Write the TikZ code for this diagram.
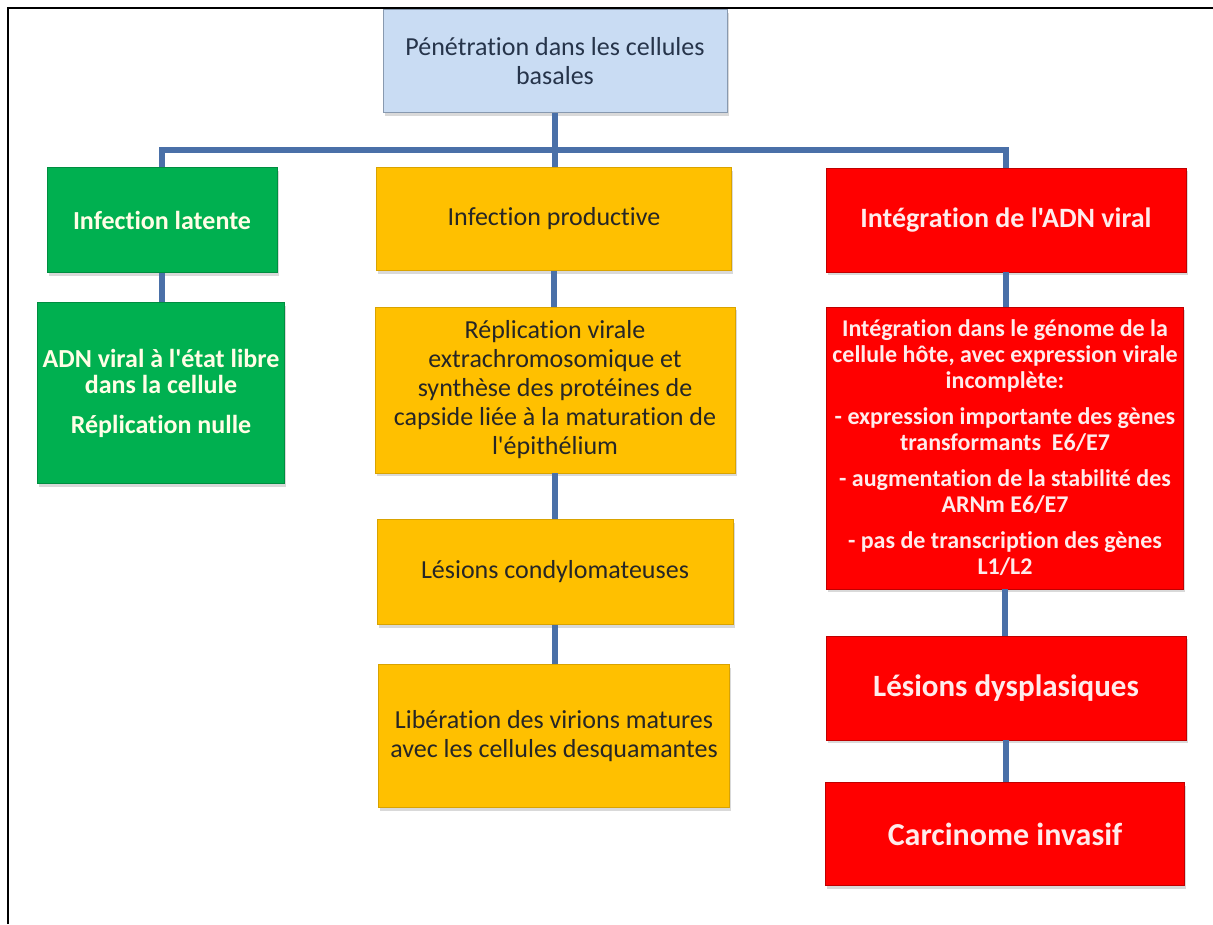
\documentclass[tikz,border=0pt]{standalone}
\usepackage{fontspec}
\setmainfont{Carlito}[Ligatures={TeXOff,NoCommon}]
\usetikzlibrary{shadows}
\definecolor{linkblue}{RGB}{74,112,168}
\definecolor{paleblue}{RGB}{201,220,243}
\definecolor{slatetext}{RGB}{38,52,74}
\definecolor{boxgreen}{RGB}{0,176,80}
\definecolor{boxyellow}{RGB}{255,192,0}
\definecolor{boxred}{RGB}{255,0,0}
\tikzset{
  box/.style={line width=0.8pt, align=center, inner sep=2pt,
    drop shadow={shadow xshift=1.5pt, shadow yshift=-3pt, opacity=0.3}},
  topbox/.style={box, draw=paleblue!60!slatetext, fill=paleblue, text=slatetext,
    font=\fontsize{26}{29}\selectfont},
  greenbox/.style={box, draw=boxgreen!80!black, fill=boxgreen, text=white!90!yellow,
    font=\bfseries\fontsize{26}{26}\selectfont},
  yellowbox/.style={box, draw=boxyellow!85!black, fill=boxyellow, text=black!85,
    font=\fontsize{26}{29}\selectfont},
  redbox/.style={box, draw=boxred!75!black, fill=boxred, text=white!92!red,
    font=\bfseries\fontsize{24}{26}\selectfont},
  link/.style={draw=linkblue, line width=6pt}
}
\begin{document}
\begin{tikzpicture}[x=1pt,y=-1pt]
\useasboundingbox (0,0) rectangle (1213,924);
\draw[line width=2.5pt] (8,924) -- (8,8) -- (1213,8);

\node[topbox, minimum width=344pt, minimum height=103pt] (pen) at (555,61)
  {Pénétration dans les cellules\\basales};

% colonne gauche
\node[greenbox, minimum width=230pt, minimum height=105pt] (lat) at (162,220)
  {Infection latente};
\node[greenbox, minimum width=247pt, minimum height=181pt] (adn) at (161,393)
  {ADN viral à l'état libre\\dans la cellule\\[14pt]Réplication nulle};

% colonne centrale
\node[yellowbox, minimum width=355pt, minimum height=103pt] (prod) at (554,219)
  {Infection productive};
\node[yellowbox, minimum width=360pt, minimum height=166pt] (repl) at (555,390)
  {Réplication virale\\extrachromosomique et\\synthèse des protéines de\\capside liée à la maturation de\\l'épithélium};
\node[yellowbox, minimum width=356pt, minimum height=105pt] (cond) at (555,572)
  {Lésions condylomateuses};
\node[yellowbox, minimum width=351pt, minimum height=143pt] (lib) at (554,736)
  {Libération des virions matures\\avec les cellules desquamantes};

% colonne droite
\node[redbox, minimum width=360pt, minimum height=104pt, font=\bfseries\fontsize{28}{29}\selectfont] (integ) at (1006,220)
  {Intégration de l'ADN viral};
\node[redbox, minimum width=357pt, minimum height=282pt] (genome) at (1005,448)
  {Intégration dans le génome de la\\cellule hôte, avec expression virale\\incomplète:\\[10pt]- expression importante des gènes\\transformants~~E6/E7\\[10pt]- augmentation de la stabilité des\\ARNm E6/E7\\[10pt]- pas de transcription des gènes\\L1/L2};
\node[redbox, minimum width=360pt, minimum height=104pt, font=\bfseries\fontsize{31}{33}\selectfont] (dysp) at (1006,688)
  {Lésions dysplasiques};
\node[redbox, minimum width=359pt, minimum height=103pt, font=\bfseries\fontsize{32}{33}\selectfont] (carc) at (1005,834)
  {Carcinome invasif};

\draw[link] (pen.south) -- (pen.south |- prod.north);
\draw[link] (lat.north) -- ++(0,-17) -| (integ.north);
\draw[link] (lat.south) -- (lat.south |- adn.north);
\draw[link] (prod.south) -- (prod.south |- repl.north);
\draw[link] (repl.south) -- (repl.south |- cond.north);
\draw[link] (cond.south) -- (cond.south |- lib.north);
\draw[link] (integ.south) -- (integ.south |- genome.north);
\draw[link] (genome.south) -- (genome.south |- dysp.north);
\draw[link] (dysp.south) -- (dysp.south |- carc.north);
\end{tikzpicture}
\end{document}
